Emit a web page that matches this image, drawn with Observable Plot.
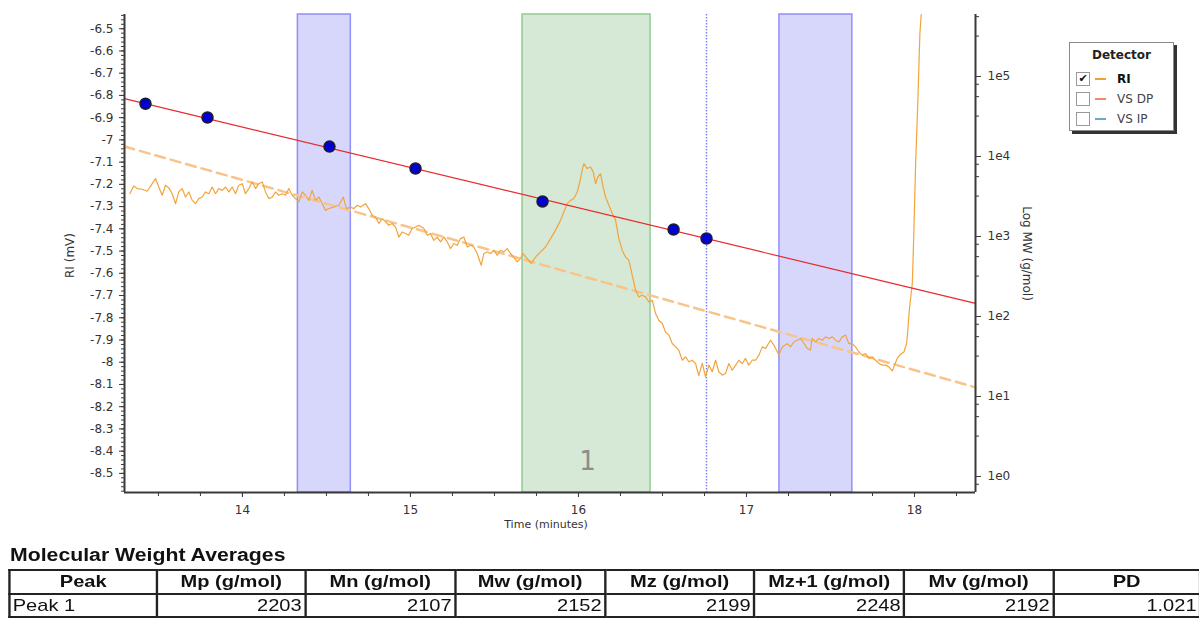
<!DOCTYPE html>
<html><head><meta charset="utf-8">
<script src="https://cdn.jsdelivr.net/npm/d3@7"></script>
<script src="https://cdn.jsdelivr.net/npm/@observablehq/plot@0.6"></script>
<style>
body{margin:0;background:#fff;width:1199px;height:619px;overflow:hidden;position:relative;font-family:"DejaVu Sans",Verdana,sans-serif;}
#chart{position:absolute;left:0;top:0;}
#legend{position:absolute;left:1069px;top:42px;width:105px;height:89px;border:1px solid #8a8a8a;box-shadow:3px 3px 0 #333;background:#fff;box-sizing:border-box;font-size:12px;color:#333;}
#legend .title{position:absolute;left:0;width:100%;top:5px;text-align:center;font-weight:bold;color:#222;}
#legend .row{position:absolute;left:6px;height:14px;line-height:14px;}
#legend .box{position:absolute;left:0;top:0;width:12px;height:12px;border:1px solid #999;font-size:11px;line-height:12px;text-align:center;color:#111;}
#legend .sw{position:absolute;left:19px;top:6px;width:11px;height:2px;}
#legend .lab{position:absolute;left:41px;top:0;white-space:nowrap;}
#tablewrap{position:absolute;left:0;top:0;transform:scaleX(1.18);transform-origin:0 0;font-family:"Liberation Sans",Arial,sans-serif;color:#111;}
#mwa{position:absolute;left:8.5px;top:545px;font-weight:bold;font-size:18px;white-space:nowrap;}
#tbl{position:absolute;left:6.8px;top:569px;border-collapse:collapse;table-layout:fixed;}
#tbl td,#tbl th{border:2px solid #222;padding:0 2px;font-size:17px;white-space:nowrap;overflow:hidden;}
#tbl th{height:22px;font-weight:bold;text-align:center;}
#tbl td{height:21px;text-align:right;}
#tbl td:first-child{text-align:left;}
</style>
</head><body>
<div id="chart"></div>
<div id="legend"></div>
<div id="tablewrap"><div id="mwa"></div><table id="tbl"></table></div>
<script>
// ---- data ----
const xDomain = [13.298, 18.363];           // Time (minutes)
const yDomain = [-8.586, -6.436];           // RI (mV)
const logMWDomain = [-0.2, 5.775];          // log10 MW range matched to the RI range

const leftTicks = [-6.5,-6.6,-6.7,-6.8,-6.9,-7,-7.1,-7.2,-7.3,-7.4,-7.5,-7.6,-7.7,-7.8,-7.9,-8,-8.1,-8.2,-8.3,-8.4,-8.5];
const xTicks = [14, 15, 16, 17, 18];
const rightTicksMW = [1, 10, 100, 1000, 10000, 100000];
const rightTickLabels = ["1e0","1e1","1e2","1e3","1e4","1e5"];
const rightMinorFactors = [0.32, 0.56, 0.8];

// baseline regions (minutes)
const baselineRegions = [[14.33, 14.645], [17.196, 17.63]];
// peak integration region
const peakRegions = [[15.667, 16.429]];
const peakLabels = [{t: 16.054, mv: -8.449, label: "1"}];
const markerTime = [16.762];

// dashed RI baseline
const baselineTime = [13.298, 18.363];
const baselineMV = [-7.03, -8.113];

// calibration curve (log MW vs time)
const calTime = [13.298, 18.363];
const calMW = [52800, 146];
// calibration standards
const stdTime = [13.423, 13.792, 14.518, 15.030, 15.786, 16.566, 16.762];
const stdMW = [45700, 30700, 13300, 7080, 2740, 1224, 944];

// RI detector trace [time, mV]
const riTrace = [
[13.330,-7.242],[13.353,-7.207],[13.374,-7.219],[13.403,-7.222],[13.433,-7.231],[13.463,-7.197],[13.483,-7.174],[13.502,-7.212],[13.522,-7.249],[13.542,-7.204],
[13.562,-7.216],[13.582,-7.242],[13.602,-7.287],[13.621,-7.234],[13.641,-7.219],[13.661,-7.257],[13.681,-7.234],[13.701,-7.272],[13.721,-7.287],[13.740,-7.264],
[13.760,-7.257],[13.780,-7.234],[13.800,-7.242],[13.820,-7.212],[13.840,-7.242],[13.859,-7.219],[13.880,-7.227],[13.899,-7.212],[13.919,-7.234],[13.939,-7.212],
[13.959,-7.242],[13.978,-7.204],[13.999,-7.197],[14.018,-7.242],[14.038,-7.219],[14.058,-7.189],[14.078,-7.219],[14.097,-7.197],[14.118,-7.189],[14.137,-7.234],
[14.157,-7.264],[14.177,-7.257],[14.197,-7.234],[14.216,-7.249],[14.237,-7.242],[14.256,-7.249],[14.276,-7.219],[14.296,-7.249],[14.316,-7.264],[14.336,-7.279],
[14.356,-7.234],[14.375,-7.249],[14.395,-7.272],[14.415,-7.227],[14.435,-7.272],[14.455,-7.257],[14.475,-7.287],[14.494,-7.317],[14.514,-7.309],[14.544,-7.302],
[14.574,-7.294],[14.600,-7.257],[14.619,-7.309],[14.643,-7.302],[14.663,-7.309],[14.683,-7.294],[14.703,-7.302],[14.732,-7.287],[14.752,-7.309],[14.772,-7.339],
[14.792,-7.347],[14.812,-7.376],[14.832,-7.354],[14.852,-7.369],[14.871,-7.384],[14.891,-7.376],[14.911,-7.392],[14.931,-7.437],[14.951,-7.414],[14.970,-7.421],
[14.990,-7.429],[15.010,-7.399],[15.030,-7.392],[15.050,-7.384],[15.080,-7.399],[15.100,-7.429],[15.119,-7.421],[15.139,-7.452],[15.159,-7.437],[15.179,-7.459],
[15.199,-7.437],[15.219,-7.459],[15.238,-7.489],[15.258,-7.466],[15.278,-7.474],[15.298,-7.444],[15.318,-7.437],[15.338,-7.482],[15.358,-7.474],[15.377,-7.482],
[15.397,-7.511],[15.421,-7.564],[15.437,-7.511],[15.457,-7.504],[15.477,-7.511],[15.496,-7.496],[15.516,-7.519],[15.536,-7.496],[15.556,-7.504],[15.576,-7.489],
[15.596,-7.511],[15.615,-7.527],[15.635,-7.549],[15.655,-7.534],[15.669,-7.511],[15.695,-7.534],[15.719,-7.556],[15.744,-7.527],[15.774,-7.504],[15.804,-7.482],
[15.834,-7.444],[15.863,-7.407],[15.893,-7.362],[15.913,-7.324],[15.933,-7.287],[15.953,-7.272],[15.972,-7.264],[15.993,-7.234],[16.008,-7.189],[16.022,-7.137],
[16.032,-7.107],[16.052,-7.129],[16.072,-7.122],[16.088,-7.145],[16.102,-7.197],[16.115,-7.167],[16.131,-7.152],[16.147,-7.212],[16.161,-7.257],[16.181,-7.294],
[16.201,-7.331],[16.221,-7.362],[16.240,-7.444],[16.260,-7.496],[16.280,-7.527],[16.300,-7.541],[16.320,-7.609],[16.340,-7.676],[16.359,-7.706],[16.379,-7.699],
[16.399,-7.706],[16.419,-7.729],[16.439,-7.721],[16.459,-7.781],[16.478,-7.811],[16.499,-7.826],[16.518,-7.864],[16.538,-7.878],[16.558,-7.916],[16.578,-7.931],
[16.597,-7.946],[16.618,-7.991],[16.637,-7.976],[16.657,-7.998],[16.677,-7.991],[16.697,-8.006],[16.716,-8.060],[16.737,-8.004],[16.756,-8.066],[16.776,-8.013],
[16.796,-8.043],[16.816,-7.991],[16.835,-8.043],[16.856,-8.058],[16.875,-8.051],[16.895,-8.006],[16.915,-8.036],[16.935,-8.013],[16.955,-7.991],[16.975,-8.006],
[16.994,-7.983],[17.014,-8.013],[17.034,-7.991],[17.054,-7.991],[17.074,-7.968],[17.094,-7.931],[17.113,-7.938],[17.143,-7.901],[17.163,-7.923],[17.193,-7.968],
[17.213,-7.931],[17.243,-7.916],[17.262,-7.931],[17.282,-7.909],[17.302,-7.901],[17.322,-7.893],[17.342,-7.916],[17.362,-7.938],[17.381,-7.946],[17.391,-7.893],
[17.411,-7.909],[17.431,-7.893],[17.451,-7.901],[17.471,-7.886],[17.491,-7.893],[17.511,-7.886],[17.530,-7.901],[17.550,-7.909],[17.570,-7.886],[17.590,-7.878],
[17.609,-7.916],[17.630,-7.916],[17.649,-7.931],[17.669,-7.954],[17.689,-7.968],[17.709,-7.961],[17.728,-7.983],[17.749,-7.976],[17.768,-7.991],[17.788,-8.006],
[17.808,-8.013],[17.828,-8.013],[17.847,-8.021],[17.868,-8.039],[17.881,-8.013],[17.897,-7.983],[17.917,-7.964],[17.937,-7.954],[17.953,-7.916],[17.960,-7.856],
[17.969,-7.766],[17.987,-7.645],[17.996,-7.420],[18.006,-7.123],[18.020,-6.822],[18.032,-6.521],[18.040,-6.436]
];

// legend
const legendNames = ["RI", "VS DP", "VS IP"];
const legendColors = ["#f0a035", "#f08a6a", "#6aa8cc"];
const legendChecked = [true, false, false];

// table
const tableTitle = "Molecular Weight Averages";
const tableHeaders = ["Peak", "Mp (g/mol)", "Mn (g/mol)", "Mw (g/mol)", "Mz (g/mol)", "Mz+1 (g/mol)", "Mv (g/mol)", "PD"];
const tableRow = ["Peak 1", "2203", "2107", "2152", "2199", "2248", "2192", "1.021"];
const colWidths = [148, 148, 150, 150, 149, 150, 149, 147];
const tableStretch = 1.18;

// ---- scales helpers ----
const logToRI = d3.scaleLinear().domain(logMWDomain).range(yDomain);
const mwY = mw => logToRI(Math.log10(mw));

const standards = stdTime.map((t, i) => ({t, mw: stdMW[i]}));
const calLine = calTime.map((t, i) => ({t, mw: calMW[i]}));
const baseline = baselineTime.map((t, i) => ({t, mv: baselineMV[i]}));

const minorX = d3.range(13.5, 18.36, 0.25);
const minorLeft = d3.range(-8.58, -6.43, 0.02);
const rightMinor = [];
for (const d of [1, 10, 100, 1000, 10000, 100000, 1000000])
  for (const f of rightMinorFactors) {
    const l = Math.log10(d * f);
    if (l >= logMWDomain[0] && l <= logMWDomain[1]) rightMinor.push(mwY(d * f));
  }

const axisColor = "#3a3a3a";
const chart = Plot.plot({
  width: 1199, height: 535,
  marginLeft: 124, marginRight: 224, marginTop: 14, marginBottom: 43,
  x: {domain: xDomain},
  y: {domain: yDomain},
  style: {fontFamily: "'DejaVu Sans', Verdana, sans-serif", fontSize: "12px", color: "#333", background: "transparent"},
  marks: [
    Plot.rect(baselineRegions, {x1: d => d[0], x2: d => d[1], y1: () => yDomain[0], y2: () => yDomain[1], fill: "#d7d7fb", stroke: "#9090f6", strokeWidth: 1.5}),
    Plot.rect(peakRegions, {x1: d => d[0], x2: d => d[1], y1: () => yDomain[0], y2: () => yDomain[1], fill: "#d6e9d6", stroke: "#93cb93", strokeWidth: 1.5}),
    Plot.ruleX(markerTime, {stroke: "#7c7cf2", strokeWidth: 1.4, strokeDasharray: "1.5,1.5"}),
    Plot.text(peakLabels, {x: "t", y: "mv", text: "label", fontSize: 26, fill: "#8c8c8c"}),
    Plot.line(baseline, {x: "t", y: "mv", stroke: "#f7c48c", strokeWidth: 2.5, strokeDasharray: "10,6"}),
    Plot.line(riTrace, {x: d => d[0], y: d => d[1], stroke: "#f2a43c", strokeWidth: 1.2, clip: true}),
    Plot.line(calLine, {x: "t", y: d => mwY(d.mw), stroke: "#e82a2c", strokeWidth: 1.2}),
    Plot.dot(standards, {x: "t", y: d => mwY(d.mw), r: 5.5, fill: "#0000d2", stroke: "#1c1c30", strokeWidth: 1.5}),
    // axes
    Plot.axisX({ticks: minorX, tickSize: 4, fill: "none", stroke: axisColor, label: null}),
    Plot.axisX({ticks: xTicks, tickSize: 5, tickPadding: 8, fontSize: 12, fill: "#333", stroke: axisColor, label: null, tickFormat: d => String(d)}),
    Plot.axisY({anchor: "left", ticks: minorLeft, tickSize: 3, fill: "none", stroke: axisColor, label: null}),
    Plot.axisY({anchor: "left", ticks: leftTicks, tickSize: 5, tickPadding: 6, fontSize: 12, fill: "#333", stroke: axisColor, label: null, tickFormat: d => String(+d.toFixed(1))}),
    Plot.axisY({anchor: "right", ticks: rightMinor, tickSize: 3, fill: "none", stroke: axisColor, label: null}),
    Plot.axisY({anchor: "right", ticks: rightTicksMW.map(mwY), tickSize: 5, tickPadding: 7, fontSize: 12, fill: "#333", stroke: axisColor, label: null,
      tickFormat: d => rightTickLabels[rightTicksMW.findIndex(m => Math.abs(mwY(m) - d) < 1e-6)]}),
    Plot.ruleX([xDomain[0]], {stroke: axisColor, strokeWidth: 2}),
    Plot.ruleX([xDomain[1]], {stroke: axisColor, strokeWidth: 2}),
    Plot.ruleY([yDomain[0]], {stroke: axisColor, strokeWidth: 2}),
    Plot.text(["RI (mV)"], {frameAnchor: "left", textAnchor: "middle", dx: -54, dy: 2, rotate: -90, text: d => d, fontSize: 12, fill: "#333"}),
    Plot.text(["Log MW (g/mol)"], {frameAnchor: "right", textAnchor: "middle", dx: 51, rotate: 90, text: d => d, fontSize: 12, fill: "#333"}),
    Plot.text(["Time (minutes)"], {frameAnchor: "bottom", textAnchor: "middle", dx: -4, dy: 35, text: d => d, fontSize: 11, fill: "#333"})
  ]
});
document.getElementById("chart").appendChild(chart);

// legend
const legend = document.getElementById("legend");
legend.innerHTML = `<div class="title">Detector</div>` + legendNames.map((n, i) =>
  `<div class="row" style="top:${29 + i * 20}px"><span class="box">${legendChecked[i] ? "&#10004;" : ""}</span>` +
  `<span class="sw" style="background:${legendColors[i]}"></span>` +
  `<span class="lab" style="font-weight:${legendChecked[i] ? "bold" : "normal"};color:${legendChecked[i] ? "#111" : "#444"}">${n}</span></div>`).join("");

// table (the report's table text is horizontally stretched)
document.getElementById("mwa").textContent = tableTitle;
const tbl = document.getElementById("tbl");
const w = colWidths.map(c => c / tableStretch);
tbl.innerHTML = `<colgroup>${w.map(c => `<col style="width:${c}px">`).join("")}</colgroup>` +
  `<tr>${tableHeaders.map(h => `<th>${h}</th>`).join("")}</tr>` +
  `<tr>${tableRow.map(v => `<td>${v}</td>`).join("")}</tr>`;
tbl.style.width = d3.sum(w) + "px";
</script>
</body></html>
